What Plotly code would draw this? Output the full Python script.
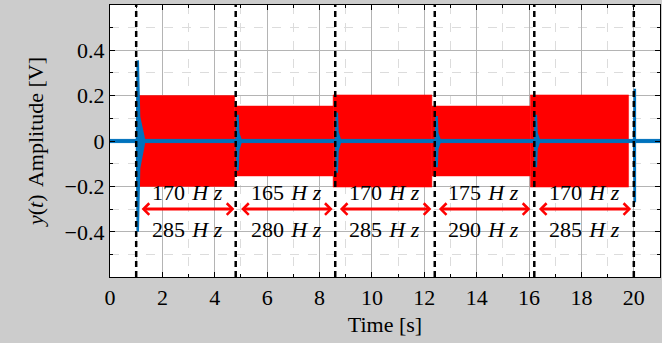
import plotly.graph_objects as go

# Switching instants of the excitation (s)
switch_t = [1.0, 4.8, 8.6, 12.4, 16.2, 20.0]

# Excitation tone pairs for each interval (Hz)
freq_low = [170, 165, 170, 175, 170]
freq_high = [285, 280, 285, 290, 285]

# Red excitation signal: start/end of each burst (s) and its peak amplitude (V)
burst_start = [1.05, 4.76, 8.52, 12.29, 16.05]
burst_end = [4.76, 8.52, 12.29, 16.05, 19.80]
burst_amp = [0.200, 0.154, 0.203, 0.154, 0.203]

# Blue response y(t): residual noise level and transients at each switch
noise_level = 0.007
spike_t = [1.06, 4.87, 8.66, 12.47, 16.26, 20.04]
spike_up = [0.355, 0.115, 0.125, 0.110, 0.115, 0.230]
spike_down = [0.400, 0.130, 0.140, 0.115, 0.115, 0.270]
spike_decay = [0.25, 0.13, 0.13, 0.13, 0.13, 0.0]

# Arrow extents for each interval (s)
arrow_from = [1.15, 4.95, 8.72, 12.50, 16.32]
arrow_to = [4.75, 8.50, 12.27, 16.05, 19.90]

RED = "#ff0000"
BLUE = "#0072bd"
FONT = "Liberation Serif"
FS = 22

fig = go.Figure()

# red bursts as filled envelopes
for s, e, a in zip(burst_start, burst_end, burst_amp):
    fig.add_trace(go.Scatter(
        x=[s, e, e, s, s], y=[a, a, -a, -a, a],
        mode="lines", fill="toself", fillcolor=RED,
        line=dict(color=RED, width=0.5), hoverinfo="skip", showlegend=False))

# blue noise floor across the whole record
fig.add_trace(go.Scatter(
    x=[0, 21, 21, 0, 0],
    y=[noise_level, noise_level, -noise_level, -noise_level, noise_level],
    mode="lines", fill="toself", fillcolor=BLUE,
    line=dict(color=BLUE, width=1), hoverinfo="skip", showlegend=False))

# blue transients at the switching instants
for t0, up, dn, d in zip(spike_t, spike_up, spike_down, spike_decay):
    xs = [t0 - 0.03, t0, t0 + 0.2 * d, t0 + d, t0 + 0.2 * d, t0, t0 - 0.03]
    ys = [0, up, 0.3 * up, 0, -0.3 * dn, -dn, 0]
    fig.add_trace(go.Scatter(
        x=xs, y=ys, mode="lines", fill="toself", fillcolor=BLUE,
        line=dict(color=BLUE, width=2.5), hoverinfo="skip", showlegend=False))

# dashed switching markers
for t0 in switch_t:
    fig.add_shape(type="line", x0=t0, x1=t0, y0=0, y1=1, xref="x", yref="paper",
                  line=dict(color="black", width=2.5, dash="6px,4px"), layer="above")

# double arrows and frequency labels
for a0, a1, fl, fh in zip(arrow_from, arrow_to, freq_low, freq_high):
    fig.add_annotation(x=a1, y=-0.3, ax=a0, ay=-0.3, xref="x", yref="y",
                       axref="x", ayref="y", text="", showarrow=True,
                       arrowhead=4, startarrowhead=4, arrowside="end+start",
                       arrowwidth=3, arrowsize=0.75, startarrowsize=0.75,
                       arrowcolor=RED)
    mid = 0.5 * (a0 + a1)
    fig.add_annotation(x=mid, y=-0.228, text=f"{fl}\u2004<i>H\u2005z</i>", showarrow=False,
                       font=dict(family=FONT, size=FS, color="black"))
    fig.add_annotation(x=mid, y=-0.388, text=f"{fh}\u2004<i>H\u2005z</i>", showarrow=False,
                       font=dict(family=FONT, size=FS, color="black"))

axis_common = dict(
    showline=True, linecolor="black", linewidth=1.2, mirror="ticks",
    ticks="inside", ticklen=5, tickcolor="black", tickwidth=1,
    showgrid=True, gridcolor="#b4b4b4", gridwidth=1, zeroline=False,
    tickfont=dict(family=FONT, size=FS, color="black"),
)

fig.update_xaxes(
    range=[0, 21], tickmode="linear", tick0=0, dtick=2,
    title=dict(text="Time [s]", font=dict(family=FONT, size=FS, color="black"), standoff=8),
    minor=dict(tickmode="linear", tick0=0, dtick=1, ticks="inside", ticklen=3,
               tickcolor="black", showgrid=True, gridcolor="#dcdcdc", griddash="dash"),
    **axis_common)
fig.update_yaxes(
    range=[-0.599, 0.599], tickmode="linear", tick0=0, dtick=0.2,
    title=dict(text="<i>y</i>(<i>t</i>)\u2004Amplitude [V]", font=dict(family=FONT, size=FS, color="black"), standoff=14),
    minor=dict(tickmode="linear", tick0=0, dtick=0.1, ticks="inside", ticklen=3,
               tickcolor="black", showgrid=True, gridcolor="#dcdcdc", griddash="dash"),
    **axis_common)

fig.update_layout(
    width=662, height=343,
    margin=dict(l=110, r=2, t=5, b=66),
    paper_bgcolor="#cccccc", plot_bgcolor="white",
    showlegend=False,
)

fig.write_html("out.html")
